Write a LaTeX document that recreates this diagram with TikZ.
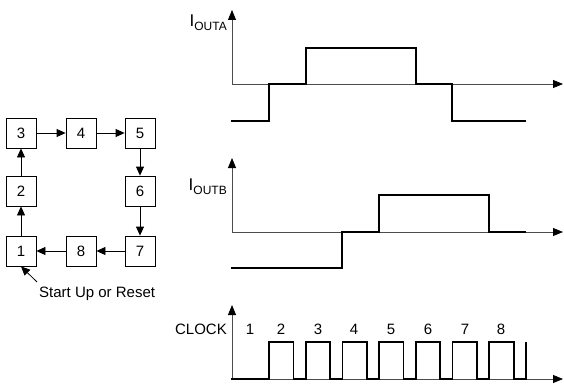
\documentclass[tikz,border=0pt]{standalone}
\usepackage{fontspec}
\setmainfont{Liberation Sans}
\usetikzlibrary{arrows.meta}
\begin{document}
\begin{tikzpicture}[x=1pt,y=-1pt,
  box/.style={draw, line width=0.8pt, minimum size=30pt, inner sep=0pt, font=\fontsize{15}{15}\selectfont},
  flow/.style={line width=0.8pt, -{Triangle[length=9pt,width=8pt]}},
  axis/.style={line width=0.8pt, draw=black!70, -{Triangle[length=10pt,width=8pt,color=black,fill=black]}},
  wave/.style={line width=1.7pt, line join=miter},
  lbl/.style={inner sep=0pt, font=\fontsize{15}{15}\selectfont}]
\useasboundingbox (0,0) rectangle (564,385);
% state boxes
\node[box] (n3) at (21,133) {3};
\node[box] (n4) at (81,133) {4};
\node[box] (n5) at (140,133) {5};
\node[box] (n6) at (140,191) {6};
\node[box] (n7) at (140,251) {7};
\node[box] (n8) at (81,251) {8};
\node[box] (n1) at (21,251) {1};
\node[box] (n2) at (21,191) {2};
\draw[flow] (n3) -- (n4);
\draw[flow] (n4) -- (n5);
\draw[flow] (n5) -- (n6);
\draw[flow] (n6) -- (n7);
\draw[flow] (n7) -- (n8);
\draw[flow] (n8) -- (n1);
\draw[flow] (n1) -- (n2);
\draw[flow] (n2) -- (n3);
\node[lbl, anchor=base west] (start) at (39,297) {Start Up or Reset};
\coordinate (sa) at (37,282);
\draw[flow] (sa) -- (n1.south);
% axes
\coordinate (oa) at (232,84);
\coordinate (ob) at (232,232);
\coordinate (oc) at (232,379);
\draw[axis] (oa) -- (232,10);
\draw[axis] (oa) -- (563,84);
\draw[axis] (ob) -- (232,158);
\draw[axis] (ob) -- (563,232);
\draw[axis] (oc) -- (232,305);
\draw[axis] (oc) -- (563,379);
% axis labels
\node[inner sep=0pt, anchor=base east] (la) at (227,27) {\fontsize{17}{17}\selectfont I\fontsize{12}{12}\selectfont\raisebox{-4pt}{OUTA}};
\node[inner sep=0pt, anchor=base east] (lb) at (227,190) {\fontsize{17}{17}\selectfont I\fontsize{12}{12}\selectfont\raisebox{-4pt}{OUTB}};
\node[lbl, anchor=base east] (lc) at (227,334) {CLOCK};
% waveforms
\draw[wave] (231,121) -- (269,121) -- (269,84) -- (306,84) -- (306,48) -- (416,48) -- (416,84) -- (452,84) -- (452,121) -- (526,121);
\draw[wave] (231,268) -- (342,268) -- (342,232) -- (379,232) -- (379,195) -- (489,195) -- (489,232) -- (526,232);
\draw[wave] (231,379)
  \foreach \k in {0,...,6} { -- ({269+36.7*\k},379) -- ({269+36.7*\k},342) -- ({293.5+36.7*\k},342) -- ({293.5+36.7*\k},379) }
  -- (526,379) -- (526,342);
% clock numbers
\foreach \x/\t in {250/1,281/2,318/3,354/4,391/5,428/6,465/7,501/8}
  \node[lbl, anchor=base] (c\t) at (\x,334) {\t};
\end{tikzpicture}
\end{document}
